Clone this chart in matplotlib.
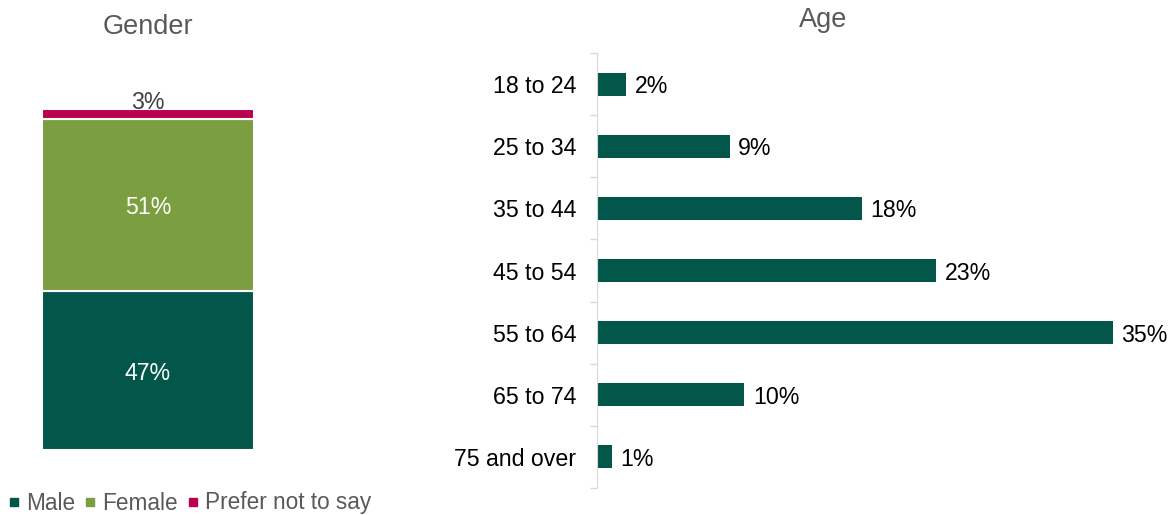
import matplotlib.pyplot as plt
from matplotlib.lines import Line2D
import numpy as np

plt.rcParams['font.family'] = ['Liberation Sans', 'DejaVu Sans']

# gender data (stacked)
gender_labels = ['Male', 'Female', 'Prefer not to say']
gender_values = [47, 51, 3]
gender_colors = ['#02564A', '#7A9E40', '#BC0050']

# age data
age_groups = ['18 to 24', '25 to 34', '35 to 44', '45 to 54', '55 to 64', '65 to 74', '75 and over']
age_values = [2, 9, 18, 23, 35, 10, 1]

fs = 16.7

fig = plt.figure(figsize=(11.76, 5.15), dpi=100)

# left: gender stacked bar
ax1 = fig.add_axes([42/1176, 1-450/515, 212/1176, 341/515])
bottom = 0
for lab, v, c in zip(gender_labels, gender_values, gender_colors):
    ax1.bar(0, v, width=1, bottom=bottom, color=c, edgecolor='white', linewidth=1.5)
    if v > 10:
        ax1.text(0, bottom + v/2, f'{v}%', ha='center', va='center_baseline', color='white', fontsize=fs)
    else:
        ax1.annotate(f'{v}%', (0, bottom + v), xytext=(0, 0), textcoords='offset points',
                     ha='center', va='baseline', color='#404040', fontsize=fs, annotation_clip=False)
    bottom += v
ax1.set_xlim(-0.5, 0.5)
ax1.set_ylim(0, sum(gender_values))
ax1.axis('off')
fig.text(148/1176, 1-27/515, 'Gender', ha='center', va='center', fontsize=19.5, color='#595959')

handles = [Line2D([], [], marker='s', linestyle='', color=c, markersize=6) for c in gender_colors]
fig.legend(handles, gender_labels, loc='center left', bbox_to_anchor=(0.0, 1-503/515),
           ncol=3, frameon=False, fontsize=16.3, labelcolor='#595959',
           handletextpad=0.25, columnspacing=0.35, borderaxespad=0, borderpad=0.3, handlelength=0.6)

# right: age horizontal bars
ax2 = fig.add_axes([597/1176, 1-488/515, (1113-597)/1176, 435/515])
y = np.arange(len(age_groups))
ax2.barh(y, age_values, height=0.37, color='#02564A')
for yi, v in zip(y, age_values):
    ax2.annotate(f'{v}%', (v, yi), xytext=(6, 0), textcoords='offset points',
                 ha='left', va='center_baseline', fontsize=fs, color='black', annotation_clip=False)
ax2.set_xlim(0, 35)
ax2.set_ylim(len(age_groups) - 0.5, -0.5)
ax2.set_yticks(y)
ax2.set_yticklabels(age_groups, fontsize=fs, va='center_baseline')
ax2.tick_params(axis='y', which='major', length=0, pad=15)
ax2.set_yticks(np.arange(len(age_groups) + 1) - 0.5, minor=True)
ax2.tick_params(axis='y', which='minor', length=5, color='#D9D9D9', width=1)
ax2.set_xticks([])
for s in ['top', 'right', 'bottom']:
    ax2.spines[s].set_visible(False)
ax2.spines['left'].set_color('#D9D9D9')
fig.text(823/1176, 1-20/515, 'Age', ha='center', va='center', fontsize=19.5, color='#595959')

fig.savefig('out.png', dpi=100)
